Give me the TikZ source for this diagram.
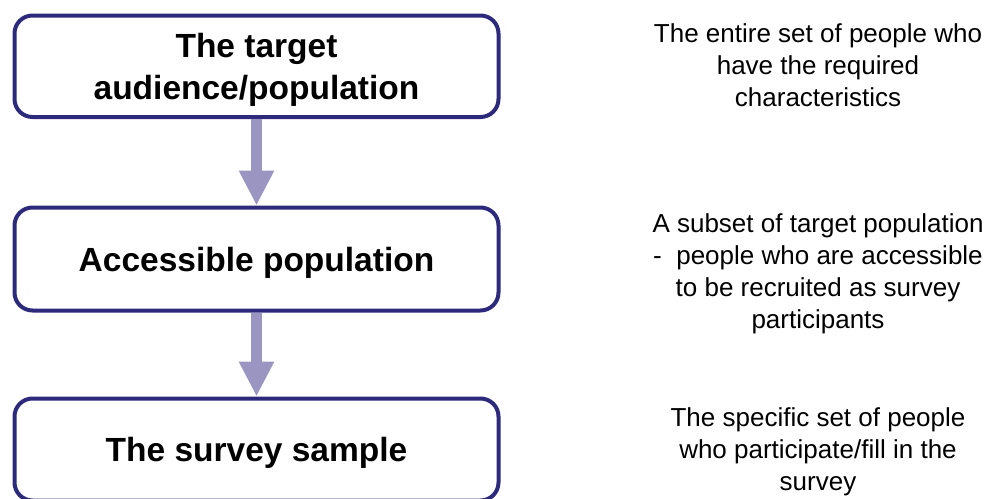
\documentclass[tikz,border=0pt]{standalone}
\usepackage{fontspec}
\setmainfont{Liberation Sans}
\usetikzlibrary{arrows.meta}
\definecolor{boxc}{RGB}{45,42,124}
\definecolor{arrc}{RGB}{154,149,193}
\tikzset{
  stagebox/.style={draw=boxc, line width=4pt, rounded corners=18pt,
    minimum width=484pt, align=center, text depth=0pt,
    font=\bfseries\fontsize{33.5}{42}\selectfont, inner sep=0pt},
  flowarrow/.style={draw=arrc, line width=11pt,
    -{Triangle[width=33pt,length=35pt,fill=arrc]}},
  desc/.style={align=center, font=\fontsize{26}{32}\selectfont, inner sep=0pt}
}
\begin{document}
\begin{tikzpicture}[x=1pt,y=1pt]
\useasboundingbox (0,0) rectangle (990,-498);
\node[stagebox, minimum height=101.5pt] (b1) at (256.5,-66.25) {The target\\audience/population};
\node[stagebox, minimum height=103pt] (b2) at (256.5,-259) {Accessible population};
\node[stagebox, minimum height=102pt] (b3) at (256.5,-449.5) {The survey sample};
\draw[flowarrow] (b1.south) -- (b2.north);
\draw[flowarrow] (b2.south) -- (b3.north);
\node[desc] (d1) at (818,-65.5) {The entire set of people who\\have the required\\characteristics};
\node[desc] (d2) at (818,-273.5) {A subset of target population\\-\ \ people who are accessible\\to be recruited as survey\\participants};
\node[desc] (d3) at (818,-452) {The specific set of people\\who participate/fill in the\\survey};
\end{tikzpicture}
\end{document}
